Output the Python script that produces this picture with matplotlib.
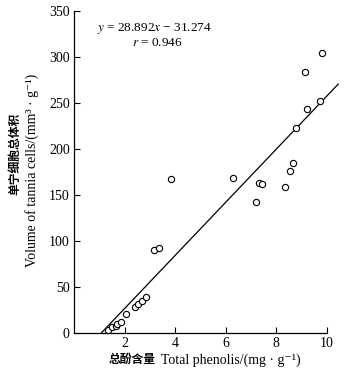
import numpy as np
import matplotlib
matplotlib.use('Agg')
import matplotlib.pyplot as plt

plt.rcParams['font.family'] = ['Liberation Serif', 'Noto Sans CJK SC', 'DejaVu Serif']
plt.rcParams['mathtext.fontset'] = 'stix'

# total phenols (mg/g) vs tannin cell volume (mm3/g)
phenols = [1.35, 1.50, 1.66, 1.72, 1.86, 2.06, 2.41, 2.53, 2.69, 2.85,
           3.16, 3.36, 3.83, 6.28, 7.19, 7.31, 7.43, 8.34, 8.54, 8.66,
           8.77, 9.13, 9.21, 9.72, 9.80]
volume = [3, 6, 8, 10, 12, 21, 28, 32, 35, 39,
          90, 92, 167, 168, 142, 163, 162, 159, 176, 185,
          223, 284, 243, 252, 304]

slope, intercept = 28.892, -31.274
r_val = 0.946
x_ticks = [2, 4, 6, 8, 10]
y_ticks = [0, 50, 100, 150, 200, 250, 300, 350]

fig = plt.figure(figsize=(3.47, 3.81), dpi=100)
ax = fig.add_axes([0.213, 0.126, 0.729, 0.845])

ax.plot(phenols, volume, 'o', mfc='white', mec='black', ms=4.5, mew=0.8, clip_on=False, zorder=3)

# fitted line, from y=0 up past the right end of the axis
xs = np.array([-intercept / slope, 10.45])
ax.plot(xs, slope * xs + intercept, color='black', lw=0.9, clip_on=False)

ax.set_xlim(0, 10)
ax.set_ylim(0, 350)
ax.set_xticks(x_ticks)
ax.set_yticks(y_ticks)
ax.tick_params(direction='in', length=4, width=0.8, labelsize=10, pad=3)
for s in ['top', 'right']:
    ax.spines[s].set_visible(False)
for s in ['left', 'bottom']:
    ax.spines[s].set_linewidth(0.9)

ax.text(3.2, 331, r'$y$ = 28.892$x$ − 31.274', ha='center', va='center', fontsize=9.5)
ax.text(3.28, 315, r'$r$ = 0.946', ha='center', va='center', fontsize=9.5)

# y label: chinese line + english line
fig.text(15 / 347, 1 - 154 / 381, '单宁细胞总体积', rotation=90, ha='center', va='center',
         fontsize=8.5, fontweight='bold', family=['Noto Sans CJK SC'])
fig.text(32 / 347, 1 - 170 / 381, 'Volume of tannia cells/(mm³ · g⁻¹)', rotation=90,
         ha='center', va='center', fontsize=10)

# x label
fig.text(132 / 347, 1 - 360 / 381, '总酚含量', ha='center', va='center',
         fontsize=8.5, fontweight='bold', family=['Noto Sans CJK SC'])
fig.text(231 / 347, 1 - 360 / 381, 'Total phenolis/(mg · g⁻¹)', ha='center', va='center',
         fontsize=10)

fig.savefig('out.png', dpi=100)
